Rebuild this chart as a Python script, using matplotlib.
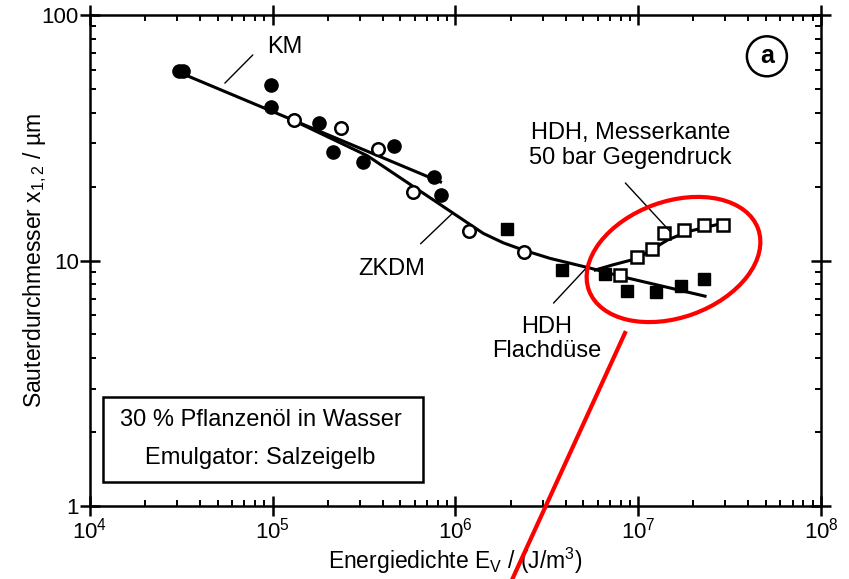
import numpy as np
import matplotlib.pyplot as plt
from matplotlib.patches import Ellipse
from matplotlib.lines import Line2D
from matplotlib.transforms import IdentityTransform

plt.rcParams["font.family"] = ["Liberation Sans", "DejaVu Sans"]
plt.rcParams["mathtext.fontset"] = "custom"
plt.rcParams["mathtext.rm"] = "Liberation Sans"
plt.rcParams["mathtext.it"] = "Liberation Sans"
plt.rcParams["mathtext.bf"] = "Liberation Sans:bold"

# KM (filled circles)
km_x = [3.06e4, 3.22e4, 9.75e4, 9.75e4, 1.78e5, 2.13e5, 3.10e5, 4.58e5, 7.67e5, 8.38e5]
km_y = [59.2, 59.2, 51.9, 42.2, 36.3, 27.7, 25.2, 29.3, 21.9, 18.5]
# ZKDM (open circles)
zkdm_x = [1.30e5, 2.36e5, 3.75e5, 5.89e5, 1.18e6, 2.38e6]
zkdm_y = [37.3, 34.7, 28.4, 19.0, 13.2, 10.8]
# HDH Flachduese (filled squares)
flach_x = [1.92e6, 3.85e6, 6.6e6, 8.7e6, 1.25e7, 1.72e7, 2.30e7]
flach_y = [13.4, 9.15, 8.8, 7.5, 7.45, 7.87, 8.42]
# HDH Messerkante (open squares)
messer_x = [7.98e6, 9.9e6, 1.19e7, 1.39e7, 1.78e7, 2.30e7, 2.91e7]
messer_y = [8.73, 10.3, 11.1, 12.9, 13.3, 14.0, 14.0]

# fitted curves
km_line_x = [3.06e4, 8.28e5]
km_line_y = [58.5, 20.9]
zkdm_line_x = [1.25e5, 3.30e5, 1.42e6, 1.83e6, 2.38e6, 3.30e6, 5.47e6, 8.28e6, 2.32e7]
zkdm_line_y = [37.7, 26.7, 12.9, 11.8, 11.0, 10.2, 9.31, 8.57, 7.16]
messer_line_x = [5.82e6, 7.21e6, 9.89e6, 1.44e7, 1.85e7, 2.91e7]
messer_line_y = [9.15, 9.59, 10.2, 12.1, 13.1, 14.2]

fig = plt.figure(figsize=(8.49, 5.79), dpi=100)
ax = fig.add_axes([0.106, 0.126, 0.861, 0.848])

ax.plot(km_line_x, km_line_y, color="black", lw=2.2, zorder=2)
ax.plot(zkdm_line_x, zkdm_line_y, color="black", lw=2.2, zorder=2)
ax.plot(messer_line_x, messer_line_y, color="black", lw=2.2, zorder=2)

ax.plot(km_x, km_y, "o", ms=9.5, color="black", zorder=3)
ax.plot(zkdm_x, zkdm_y, "o", ms=9, mfc="white", mec="black", mew=1.8, zorder=3)
ax.plot(flach_x, flach_y, "s", ms=9, color="black", zorder=3)
ax.plot(messer_x, messer_y, "s", ms=9, mfc="white", mec="black", mew=1.8, zorder=3)

ax.set_xscale("log")
ax.set_yscale("log")
ax.set_xlim(1e4, 1e8)
ax.set_ylim(1, 100)

ax.set_yticks([1, 10, 100])
ax.set_yticklabels(["1", "10", "100"])
ax.set_xticks([1e4, 1e5, 1e6, 1e7, 1e8])
ax.set_xticklabels(["$10^4$", "$10^5$", "$10^6$", "$10^7$", "$10^8$"])

ax.tick_params(which="major", direction="inout", length=14, width=1.8,
               top=True, right=True, labelsize=16, pad=1)
ax.tick_params(which="minor", direction="in", length=4, width=1.4,
               top=True, right=True)
for s in ax.spines.values():
    s.set_linewidth(1.8)

ax.set_xlabel("Energiedichte E$_V$ / (J/m$^3$)", fontsize=16.5, labelpad=2)
ax.set_ylabel("Sauterdurchmesser x$_{1,2}$ / µm", fontsize=16.5, labelpad=-5)

# annotations
fs = 17
lead = dict(arrowstyle="-", color="black", lw=1.0, shrinkA=0, shrinkB=0)
ax.text(1.16e5, 74.1, "KM", fontsize=fs, ha="center", va="center")
ax.annotate("", xy=(5.47e4, 52.8), xytext=(7.78e4, 68.8), arrowprops=lead)
ax.text(4.47e5, 9.23, "ZKDM", fontsize=fs, ha="center", va="center")
ax.annotate("", xy=(9.64e5, 15.6), xytext=(6.44e5, 11.7), arrowprops=lead)
ax.text(9.04e6, 29.4, "HDH, Messerkante\n50 bar Gegendruck", fontsize=fs,
        ha="center", va="center", linespacing=1.15)
ax.annotate("", xy=(1.50e7, 13.1), xytext=(8.5e6, 20.7), arrowprops=lead)
ax.text(3.14e6, 4.79, "HDH\nFlachdüse", fontsize=fs, ha="center", va="center",
        linespacing=1.15)
ax.annotate("", xy=(5.26e6, 9.42), xytext=(3.44e6, 6.71), arrowprops=lead)

# info box
ax.add_patch(plt.Rectangle((0.018, 0.049), 0.438, 0.173, transform=ax.transAxes,
                           fill=False, ec="black", lw=1.8, zorder=4))
ax.text(0.234, 0.175, "30 % Pflanzenöl in Wasser", transform=ax.transAxes,
        fontsize=fs, ha="center", va="center")
ax.text(0.233, 0.098, "Emulgator: Salzeigelb", transform=ax.transAxes,
        fontsize=fs, ha="center", va="center")

# panel marker
ax.text(0.926, 0.916, "a", transform=ax.transAxes, fontsize=18, fontweight="bold",
        ha="center", va="center",
        bbox=dict(boxstyle="circle,pad=0.32", fc="white", ec="black", lw=1.8))

# red highlight
ell = Ellipse((673.5, 319.5), 180, 116, angle=20, transform=IdentityTransform(),
              fill=False, ec="#ff0000", lw=3.0, zorder=10)
fig.add_artist(ell)
fig.add_artist(Line2D([625, 511], [246, -3], transform=IdentityTransform(),
                      color="#ff0000", lw=3.0, zorder=10))

fig.savefig("out.png", dpi=100)
